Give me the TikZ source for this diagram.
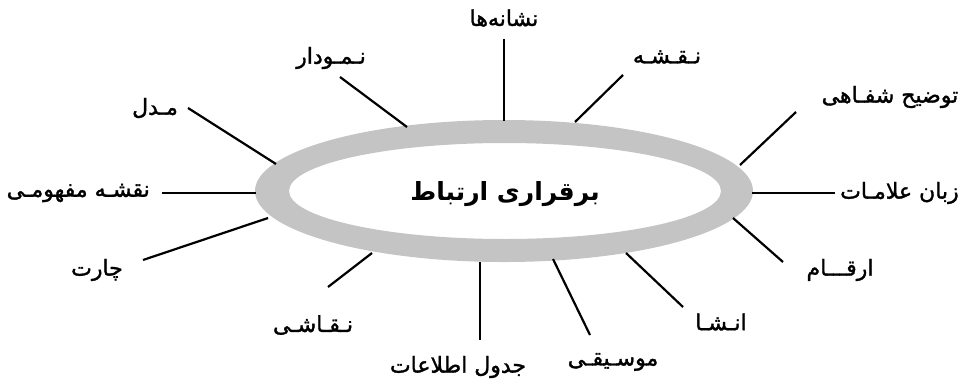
\documentclass[tikz,border=0pt]{standalone}
\usepackage{fontspec}
\newfontfamily\arabicfont[Script=Arabic]{DejaVu Sans}
\newfontfamily\arabicmed[Script=Arabic,FakeBold=1.5]{DejaVu Sans}
\TeXXeTstate=1
\definecolor{ringgray}{RGB}{196,196,196}
\tikzset{
  lbl/.style={font=\arabicmed\fontsize{22}{26}\selectfont, inner sep=0pt, text=black},
  ctr/.style={font=\arabicfont\bfseries\fontsize{25}{29}\selectfont, inner sep=0pt},
  conn/.style={line width=2.2pt, black}
}
\newcommand{\rtl}[1]{\beginR #1\endR}
\begin{document}
\begin{tikzpicture}[x=1pt,y=-1pt]
\useasboundingbox (0,0) rectangle (976,383);
\fill[white] (0,0) rectangle (976,383);
% ring
\fill[ringgray, even odd rule] (504,191) ellipse [x radius=249, y radius=71]
  (505,191) ellipse [x radius=216, y radius=48];
\node[ctr] (center) at (505,194) {\rtl{برقراری ارتباط}};

% labels
\node[lbl] (l1) at (504,18) {\rtl{نشانه‌ها}};
\node[lbl] (l2) at (667,57) {\rtl{نـقـشـه}};
\node[lbl] (l3) at (890,97) {\rtl{توضیح شفـاهی}};
\node[lbl, anchor=west] (l4) at (840,193) {\rtl{زبان علامـات}};
\node[lbl] (l5) at (840,270) {\rtl{ارقـــام}};
\node[lbl] (l6) at (721,322) {\rtl{انـشـا}};
\node[lbl] (l7) at (613,362) {\rtl{موسـیقـی}};
\node[lbl] (l8) at (458,367) {\rtl{جدول اطلاعات}};
\node[lbl] (l9) at (313,325) {\rtl{نـقـاشـی}};
\node[lbl] (l10) at (97,270) {\rtl{چارت}};
\node[lbl, anchor=east] (l11) at (150,193) {\rtl{نقشـه مفهومـی}};
\node[lbl] (l12) at (155,108) {\rtl{مـدل}};
\node[lbl] (l13) at (331,58) {\rtl{نـمـودار}};

% connector ends
\coordinate (a1) at (504,39);  \coordinate (b1) at (504,121);
\coordinate (a2) at (623,75);  \coordinate (b2) at (575,122);
\coordinate (a3) at (796,112); \coordinate (b3) at (740,165);
\coordinate (a4) at (835,193); \coordinate (b4) at (752,193);
\coordinate (a5) at (783,262); \coordinate (b5) at (733,218);
\coordinate (a6) at (683,307); \coordinate (b6) at (626,253);
\coordinate (a7) at (590,335); \coordinate (b7) at (553,259);
\coordinate (a8) at (480,340); \coordinate (b8) at (480,262);
\coordinate (a9) at (328,287); \coordinate (b9) at (372,253);
\coordinate (a10) at (143,260); \coordinate (b10) at (268,218);
\coordinate (a11) at (162,193); \coordinate (b11) at (256,193);
\coordinate (a12) at (188,108); \coordinate (b12) at (276,164);
\coordinate (a13) at (340,77);  \coordinate (b13) at (407,127);

\foreach \i in {1,...,13} { \draw[conn] (a\i) -- (b\i); }
\end{tikzpicture}
\end{document}
